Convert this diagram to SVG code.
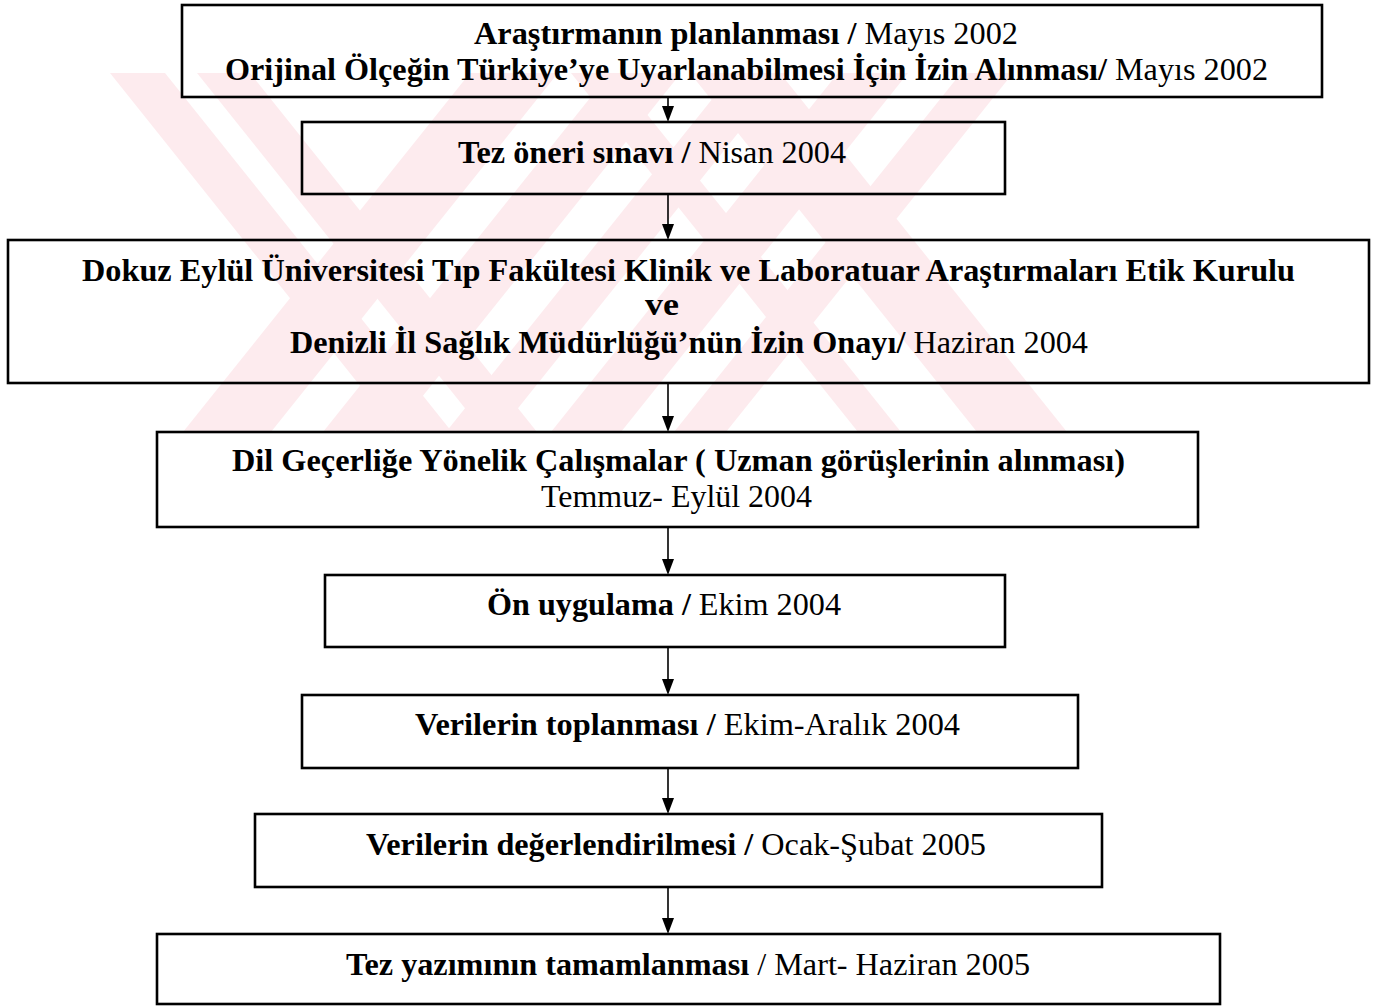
<svg xmlns="http://www.w3.org/2000/svg" width="1373" height="1006" viewBox="0 0 1373 1006">
<style>
.box{fill:none;stroke:#000;stroke-width:2.6}
.t{font-family:"Liberation Serif","Times New Roman",serif;font-size:31px;fill:#000}
.b{font-weight:bold}
.r{font-weight:normal}
.wm{fill:#fdebee}
.con{stroke:#000;stroke-width:1.6;fill:none}
.ah{fill:#000}
</style>
<defs>
<clipPath id="wmclip"><rect x="0" y="73" width="1373" height="359"/></clipPath>
</defs>
<rect width="1373" height="1006" fill="#fff"/>
<g id="watermark" clip-path="url(#wmclip)">
<polygon class="wm" points="470,73 558,73 271,432 183,432"/>
<polygon class="wm" points="610,73 681,73 394,432 323,432"/>
<polygon class="wm" points="733,73 786,73 499,432 446,432"/>
<polygon class="wm" points="838,73 908,73 621,432 551,432"/>
<polygon class="wm" points="961,73 1013,73 726,432 674,432"/>
<polygon class="wm" points="110,73 165,73 452,432 397,432"/>
<polygon class="wm" points="197,73 250,73 537,432 484,432"/>
<polygon class="wm" points="571,73 614,73 901,432 858,432"/>
<polygon class="wm" points="690,73 780,73 1067,432 977,432"/>
</g>
<g id="connectors">
<line class="con" x1="668" y1="97" x2="668" y2="108"/><polygon class="ah" points="662,106 674,106 668,122"/>
<line class="con" x1="668" y1="194" x2="668" y2="226"/><polygon class="ah" points="662,224 674,224 668,240"/>
<line class="con" x1="668" y1="383" x2="668" y2="418"/><polygon class="ah" points="662,416 674,416 668,432"/>
<line class="con" x1="668" y1="527" x2="668" y2="561"/><polygon class="ah" points="662,559 674,559 668,575"/>
<line class="con" x1="668" y1="647" x2="668" y2="681"/><polygon class="ah" points="662,679 674,679 668,695"/>
<line class="con" x1="668" y1="768" x2="668" y2="800"/><polygon class="ah" points="662,798 674,798 668,814"/>
<line class="con" x1="668" y1="887" x2="668" y2="920"/><polygon class="ah" points="662,918 674,918 668,934"/>
</g>
<g id="n1">
<rect class="box" x="182" y="5" width="1140" height="92"/>
<text class="t" x="474" y="44" textLength="544" lengthAdjust="spacingAndGlyphs"><tspan class="b">Araştırmanın planlanması /</tspan><tspan class="r"> Mayıs 2002</tspan></text>
<text class="t" x="225" y="80" textLength="1043" lengthAdjust="spacingAndGlyphs"><tspan class="b">Orijinal Ölçeğin Türkiye’ye Uyarlanabilmesi İçin İzin Alınması/</tspan><tspan class="r"> Mayıs 2002</tspan></text>
</g>
<g id="n2">
<rect class="box" x="302" y="122" width="703" height="72"/>
<text class="t" x="458" y="163" textLength="388" lengthAdjust="spacingAndGlyphs"><tspan class="b">Tez öneri sınavı /</tspan><tspan class="r"> Nisan 2004</tspan></text>
</g>
<g id="n3">
<rect class="box" x="8" y="240" width="1361" height="143"/>
<text class="t b" x="82" y="281" textLength="1213" lengthAdjust="spacingAndGlyphs">Dokuz Eylül Üniversitesi Tıp Fakültesi Klinik ve Laboratuar Araştırmaları Etik Kurulu</text>
<text class="t b" x="645" y="315" textLength="34" lengthAdjust="spacingAndGlyphs">ve</text>
<text class="t" x="290" y="353" textLength="798" lengthAdjust="spacingAndGlyphs"><tspan class="b">Denizli İl Sağlık Müdürlüğü’nün İzin Onayı/</tspan><tspan class="r"> Haziran 2004</tspan></text>
</g>
<g id="n4">
<rect class="box" x="157" y="432" width="1041" height="95"/>
<text class="t b" x="232" y="471" textLength="893" lengthAdjust="spacingAndGlyphs">Dil Geçerliğe Yönelik Çalışmalar ( Uzman görüşlerinin alınması)</text>
<text class="t r" x="541" y="507" textLength="271" lengthAdjust="spacingAndGlyphs">Temmuz- Eylül 2004</text>
</g>
<g id="n5">
<rect class="box" x="325" y="575" width="680" height="72"/>
<text class="t" x="487" y="615" textLength="354" lengthAdjust="spacingAndGlyphs"><tspan class="b">Ön uygulama /</tspan><tspan class="r"> Ekim 2004</tspan></text>
</g>
<g id="n6">
<rect class="box" x="302" y="695" width="776" height="73"/>
<text class="t" x="415" y="735" textLength="545" lengthAdjust="spacingAndGlyphs"><tspan class="b">Verilerin toplanması /</tspan><tspan class="r"> Ekim-Aralık 2004</tspan></text>
</g>
<g id="n7">
<rect class="box" x="255" y="814" width="847" height="73"/>
<text class="t" x="366" y="855" textLength="620" lengthAdjust="spacingAndGlyphs"><tspan class="b">Verilerin değerlendirilmesi /</tspan><tspan class="r"> Ocak-Şubat 2005</tspan></text>
</g>
<g id="n8">
<rect class="box" x="157" y="934" width="1063" height="70"/>
<text class="t" x="346" y="975" textLength="684" lengthAdjust="spacingAndGlyphs"><tspan class="b">Tez yazımının tamamlanması</tspan><tspan class="r"> / Mart- Haziran 2005</tspan></text>
</g>
</svg>
